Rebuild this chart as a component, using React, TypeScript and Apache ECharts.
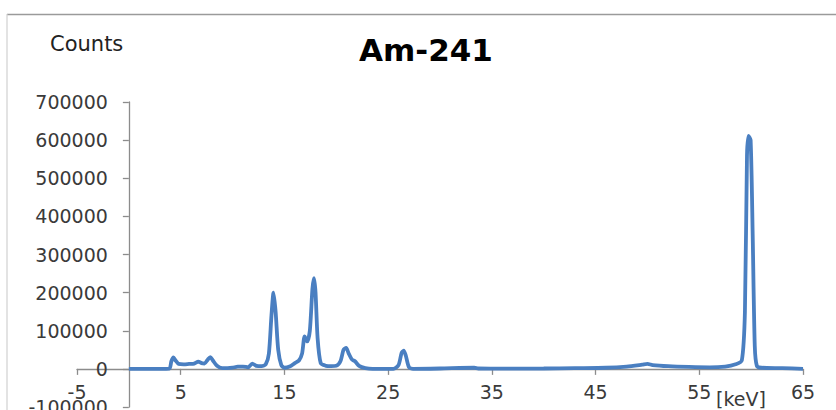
import React, { useEffect, useRef } from "react";
import * as echarts from "echarts";

const energies: number[] = [
  0, 1, 2, 3, 3.9, 4.1, 4.3, 4.5, 4.8, 5.3, 5.8, 6.3, 6.7, 7.0, 7.3, 7.6, 7.85, 8.1, 8.5, 9.0,
  9.5, 10.0, 10.5, 11.0, 11.5, 11.9, 12.3, 12.8, 13.2, 13.5, 13.75, 13.95, 14.15, 14.4, 14.7, 15.0,
  15.5, 16.0, 16.4, 16.7, 16.95, 17.2, 17.45, 17.7, 17.85, 18.0, 18.2, 18.5, 19.0, 19.5, 20.0,
  20.4, 20.7, 20.95, 21.2, 21.5, 21.8, 22.2, 22.8, 23.5, 25.5, 26.0, 26.3, 26.5, 26.7, 27.0, 27.4,
  30, 33.3, 33.7, 37, 40, 43, 46, 48, 49.5, 50.0, 50.5, 52, 54, 56, 57.5, 58.5, 59.1, 59.4, 59.6,
  59.75, 59.95, 60.15, 60.35, 60.55, 61, 63, 65,
];
const counts: number[] = [
  0, 0, 0, 0, 500, 20000, 30000, 22000, 13000, 12000, 13000, 14000, 19000, 15000, 14000, 24000, 31000, 22000, 8000, 2000,
  2000, 3000, 6000, 6000, 4000, 14000, 8000, 7000, 12000, 40000, 140000, 200000, 150000, 50000, 10000, 3000,
  6000, 15000, 22000, 40000, 85000, 72000, 100000, 210000, 238000, 200000, 80000, 15000, 8000, 7000, 8000,
  20000, 50000, 55000, 40000, 25000, 20000, 8000, 2000, 0, 0, 10000, 42000, 48000, 35000, 5000, 0,
  1000, 3000, 1000, 500, 1000, 2000, 3000, 6000, 11000, 13000, 10000, 7000, 5000, 4000, 6000, 12000, 22000, 150000, 560000,
  611000, 600000, 350000, 60000, 8000, 3000, 2000, 0,
];

const chartTitle = "Am-241";
const yAxisTitle = "Counts";
const xAxisTitle = "[keV]";

const X_MIN = -5;
const X_MAX = 65;
const Y_MIN = -100000;
const Y_MAX = 700000;

export default function App() {
  const ref = useRef<HTMLDivElement>(null);
  useEffect(() => {
    document.body.style.margin = "0";
    if (!ref.current) return;
    const chart = echarts.init(ref.current, null, { renderer: "svg" });
    const font = "DejaVu Sans";
    const gl = 77, gr = 33, gt = 102, gb = 3;
    const gw = 836 - gl - gr;
    const gh = 410 - gt - gb;
    // axes cross at zero, as in the reference
    const yOffset = -gw * (0 - X_MIN) / (X_MAX - X_MIN);
    const xOffset = -gh * (0 - Y_MIN) / (Y_MAX - Y_MIN);
    chart.setOption({
      animation: false,
      backgroundColor: "#ffffff",
      grid: { left: gl, right: gr, top: gt, bottom: gb, containLabel: false, outerBoundsMode: "none" },
      xAxis: {
        type: "value",
        min: X_MIN,
        max: X_MAX,
        interval: 10,
        position: "bottom",
        offset: xOffset,
        axisLine: { onZero: false, lineStyle: { color: "#8c8c8c", width: 1.3 } },
        axisTick: { show: true, length: 6, lineStyle: { color: "#8c8c8c", width: 1.3 } },
        axisLabel: {
          margin: 14,
          color: "#3a3a3a",
          fontFamily: font,
          fontSize: 19,
          hideOverlap: false,
          showMinLabel: true,
          showMaxLabel: true,
          formatter: (v: number) => String(v),
        },
        splitLine: { show: false },
      },
      yAxis: {
        type: "value",
        min: Y_MIN,
        max: Y_MAX,
        interval: 100000,
        position: "left",
        offset: yOffset,
        axisLine: { show: true, onZero: false, lineStyle: { color: "#8c8c8c", width: 1.3 } },
        axisTick: { show: true, length: 6, lineStyle: { color: "#8c8c8c", width: 1.3 } },
        axisLabel: {
          margin: 21,
          color: "#3a3a3a",
          fontFamily: font,
          fontSize: 19,
          hideOverlap: false,
          formatter: (v: number) => String(v),
        },
        splitLine: { show: false },
      },
      series: [
        {
          type: "line",
          data: energies.map((e, i) => [e, counts[i]]),
          showSymbol: false,
          smooth: 0.25,
          lineStyle: { color: "#4a7fc1", width: 3.8 },
          itemStyle: { color: "#4a7fc1" },
        },
      ],
      graphic: [
        {
          type: "line",
          shape: { x1: 7, y1: 14.5, x2: 836, y2: 14.5 },
          style: { stroke: "#9a9a9a", lineWidth: 1.5 },
          silent: true,
        },
        {
          type: "line",
          shape: { x1: 7, y1: 14, x2: 7, y2: 410 },
          style: { stroke: "#d0d0d0", lineWidth: 1.2 },
          silent: true,
        },
        {
          type: "text",
          x: 426,
          y: 50,
          style: {
            text: chartTitle,
            fontFamily: font,
            fontWeight: "bold",
            fontSize: 31,
            fill: "#000000",
            textAlign: "center",
            textVerticalAlign: "middle",
          },
        },
        {
          type: "text",
          x: 50,
          y: 44,
          style: {
            text: yAxisTitle,
            fontFamily: font,
            fontSize: 21,
            fill: "#222222",
            textAlign: "left",
            textVerticalAlign: "middle",
          },
        },
        {
          type: "text",
          x: 741,
          y: 399,
          style: {
            text: xAxisTitle,
            fontFamily: font,
            fontSize: 19,
            fill: "#3a3a3a",
            textAlign: "center",
            textVerticalAlign: "middle",
          },
        },
      ],
    });
    return () => chart.dispose();
  }, []);
  return <div ref={ref} style={{ width: 836, height: 410 }} />;
}
